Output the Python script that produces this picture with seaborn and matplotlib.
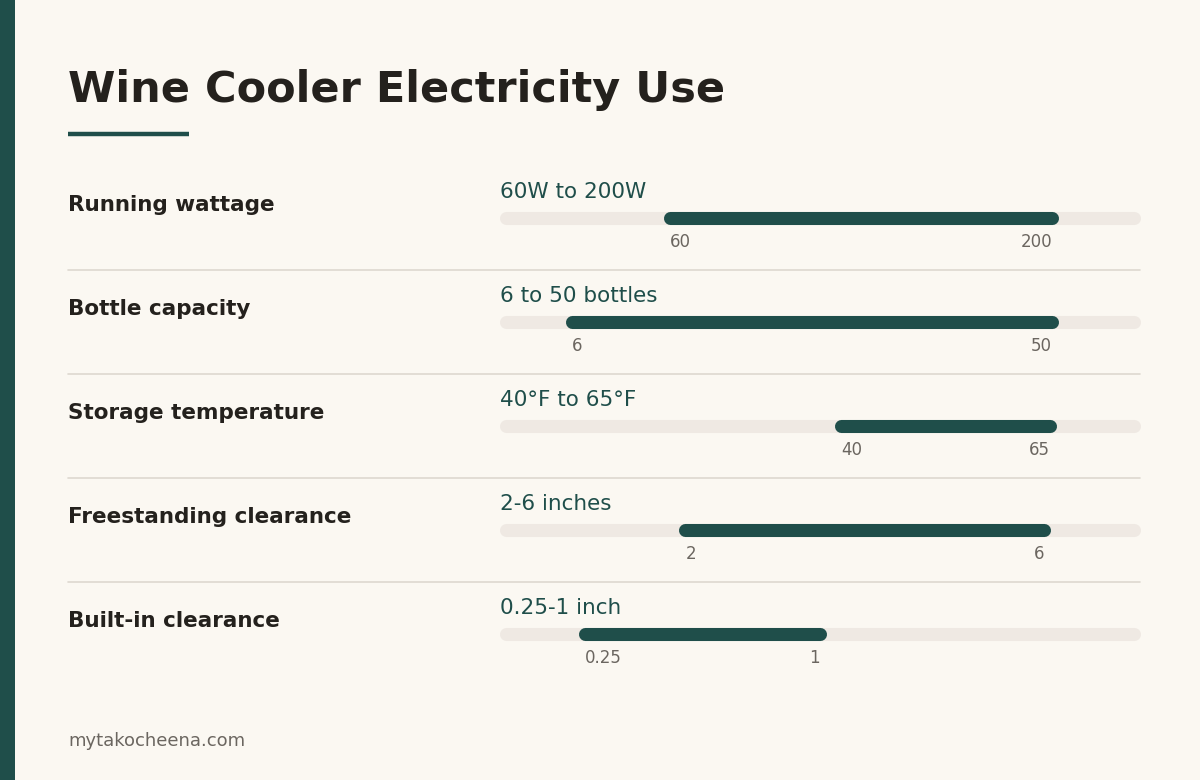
import matplotlib
matplotlib.use("Agg")
import matplotlib.pyplot as plt
import matplotlib.transforms as mtrans
import seaborn as sns

# Data
labels = ["Running wattage", "Bottle capacity", "Storage temperature",
          "Freestanding clearance", "Built-in clearance"]
range_texts = ["60W to 200W", "6 to 50 bottles", "40°F to 65°F", "2-6 inches", "0.25-1 inch"]
lows = [60, 6, 40, 2, 0.25]
highs = [200, 50, 65, 6, 1]
low_labels = ["60", "6", "40", "2", "0.25"]
high_labels = ["200", "50", "65", "6", "1"]
scale_max = [230, 57.5, 75, 7, 2]

BG = "#fbf8f2"
GREEN = "#1f4e4a"
TRACK = "#efe9e3"
DARK = "#24211d"
GREY = "#6b6660"
W, H = 1200, 780

sns.set_theme(style="white")
plt.rcParams["font.family"] = "sans-serif"
plt.rcParams["font.sans-serif"] = ["DejaVu Sans"]

fig = plt.figure(figsize=(12, 7.8), dpi=100, facecolor=BG)
base = fig.add_axes([0, 0, 1, 1])
base.set_xlim(0, W)
base.set_ylim(H, 0)
base.axis("off")
base.set_facecolor(BG)

base.add_patch(plt.Rectangle((0, 0), 15, H, color=GREEN, lw=0))
base.text(68, 90, "Wine Cooler Electricity Use", fontsize=31, fontweight="bold",
          color=DARK, va="center", ha="left")
base.plot([68, 189], [134, 134], color=GREEN, lw=3.2, solid_capstyle="butt")
base.text(68, 741, "mytakocheena.com", fontsize=13, color=GREY, va="center")

for i in range(len(labels)):
    by = 218 + i * 104
    base.text(68, by - 13, labels[i], fontsize=15.5, fontweight="bold", color=DARK, va="center")
    base.text(500, by - 26, range_texts[i], fontsize=15.5, color=GREEN, va="center")
    if i < len(labels) - 1:
        base.plot([68, 1140], [by + 52, by + 52], color="#ddd8d0", lw=1.2)

    ax = fig.add_axes([506 / W, (H - by - 10) / H, 628 / W, 20 / H])
    ax.set_xlim(0, scale_max[i])
    ax.set_ylim(-1, 1)
    ax.axis("off")
    ax.patch.set_alpha(0)
    ax.plot([0, scale_max[i]], [0, 0], color=TRACK, lw=9.4, solid_capstyle="round", clip_on=False)
    ax.plot([lows[i], highs[i]], [0, 0], color=GREEN, lw=9.4, solid_capstyle="round", clip_on=False)
    tr = mtrans.blended_transform_factory(ax.transData, base.transData)
    ax.text(lows[i], by + 24, low_labels[i], transform=tr, fontsize=12, color=GREY,
            ha="left", va="center")
    ax.text(highs[i], by + 24, high_labels[i], transform=tr, fontsize=12, color=GREY,
            ha="right", va="center")

fig.savefig("out.png", dpi=100, facecolor=BG)
